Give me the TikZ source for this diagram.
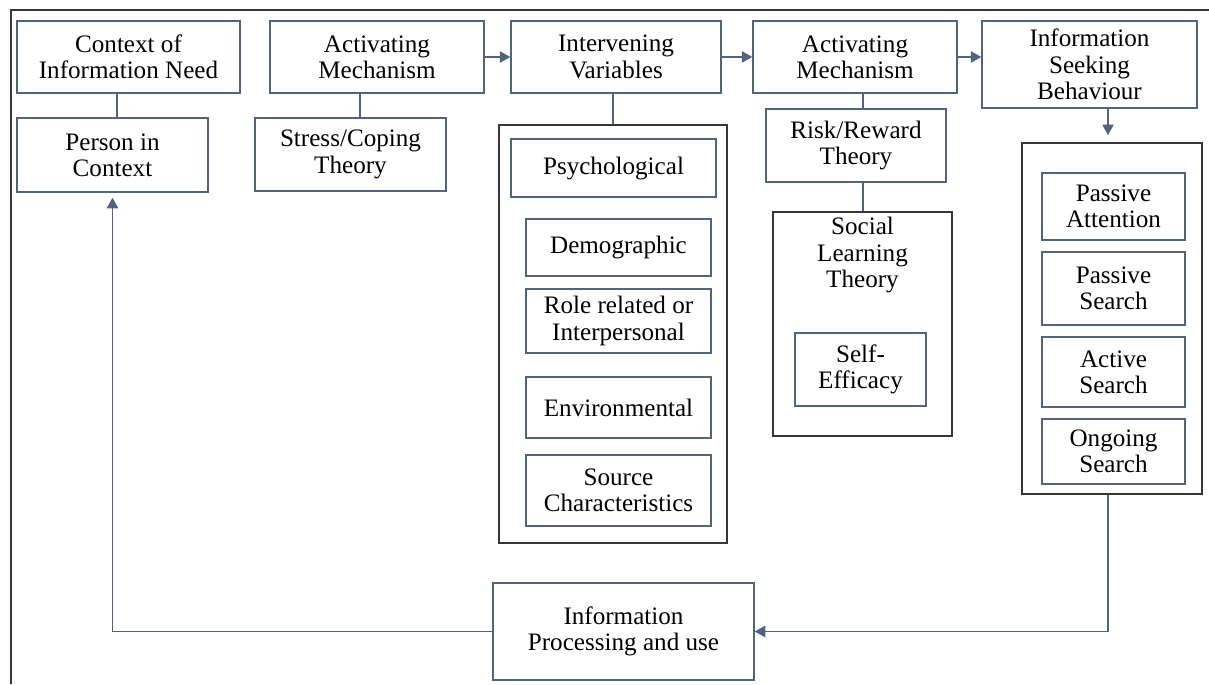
\documentclass[tikz,border=0pt]{standalone}
\usepackage{fontspec}
\setmainfont{Liberation Serif}
\usetikzlibrary{arrows.meta}
\definecolor{slate}{RGB}{84,99,124}
\definecolor{framegray}{RGB}{55,55,55}

\begin{document}
\begin{tikzpicture}[x=0.02cm,y=-0.02cm,
  box/.style 2 args={draw=slate,line width=0.8pt,align=center,inner sep=0pt,
    minimum width=#1*0.02cm,minimum height=#2*0.02cm,
    font=\fontsize{14.3}{15}\selectfont},
  group/.style 2 args={draw=framegray,line width=1.1pt,inner sep=0pt,
    minimum width=#1*0.02cm,minimum height=#2*0.02cm},
  link/.style={draw=slate,line width=0.8pt},
  arr/.style={link,-{Triangle[length=6pt,width=6.5pt]}}]
\useasboundingbox (0,0) rectangle (1209,684);
\draw[framegray,line width=1.2pt] (11,684) -- (11,10) -- (1209,10);

% top row
\node[box={223}{72}] (need) at (128.5,57) {Context of\\Information Need};
\node[box={214}{72}] (act1) at (377,57) {Activating\\Mechanism};
\node[box={210}{72}] (intv) at (616,57) {Intervening\\Variables};
\node[box={204}{72}] (act2) at (855,57) {Activating\\Mechanism};
\node[box={215}{87}] (seek) at (1089.5,64.5) {Information\\Seeking\\Behaviour};

% second row
\node[box={191}{74}] (person) at (112.5,155) {Person in\\Context};
\node[box={191}{73}] (stress) at (350.5,154.5) {Stress/Coping\\Theory};
\node[box={180}{73}] (risk) at (856,145.5) {Risk/Reward\\Theory};

% intervening variables
\node[group={228}{418}] (grpV) at (613,334) {};
\node[box={205}{58}] (psych) at (613.5,168) {Psychological};
\node[box={185}{57}] (demo) at (618.5,247.5) {Demographic};
\node[box={185}{64}] (role) at (618.5,321) {Role related or\\Interpersonal};
\node[box={185}{61}] (env) at (618.5,407.5) {Environmental};
\node[box={185}{71}] (src) at (618.5,490.5) {Source\\Characteristics};

% social learning
\node[group={179}{224}] (grpS) at (862.5,324) {};
\node[box={0}{0},draw=none] (slt) at (862.5,255) {Social\\Learning\\Theory};
\node[box={131}{73}] (self) at (860.5,369.5) {Self-\\Efficacy};

% seeking behaviour
\node[group={180}{351}] (grpB) at (1112,318.5) {};
\node[box={143}{67}] (patt) at (1113.5,206.5) {Passive\\Attention};
\node[box={143}{73}] (psrch) at (1113.5,288.5) {Passive\\Search};
\node[box={143}{70}] (asrch) at (1113.5,372) {Active\\Search};
\node[box={143}{65}] (osrch) at (1113.5,451.5) {Ongoing\\Search};

\node[box={261}{97}] (proc) at (623.5,631.5) {Information\\Processing and use};

% connectors
\coordinate (c1) at (117,0);
\coordinate (c2) at (360,0);
\coordinate (c3) at (863,0);
\coordinate (c4) at (1108,0);
\draw[link] (need.south -| c1) -- (person.north -| c1);
\draw[link] (act1.south -| c2) -- (stress.north -| c2);
\draw[link] (intv.south -| grpV.north) -- (grpV.north);
\draw[link] (act2.south -| c3) -- (risk.north -| c3);
\draw[link] (risk.south -| c3) -- (grpS.north -| c3);
\draw[arr] (act1.east) -- (intv.west);
\draw[arr] (intv.east) -- (act2.west);
\draw[arr] (act2.east) -- (act2.east -| seek.west);
\draw[arr,shorten >=0.14cm] (seek.south -| c4) -- (grpB.north -| c4);
\draw[arr] (grpB.south -| c4) |- (proc.east);
\draw[arr,shorten >=0.1cm] (proc.west) -| (person.south);
\end{tikzpicture}
\end{document}
